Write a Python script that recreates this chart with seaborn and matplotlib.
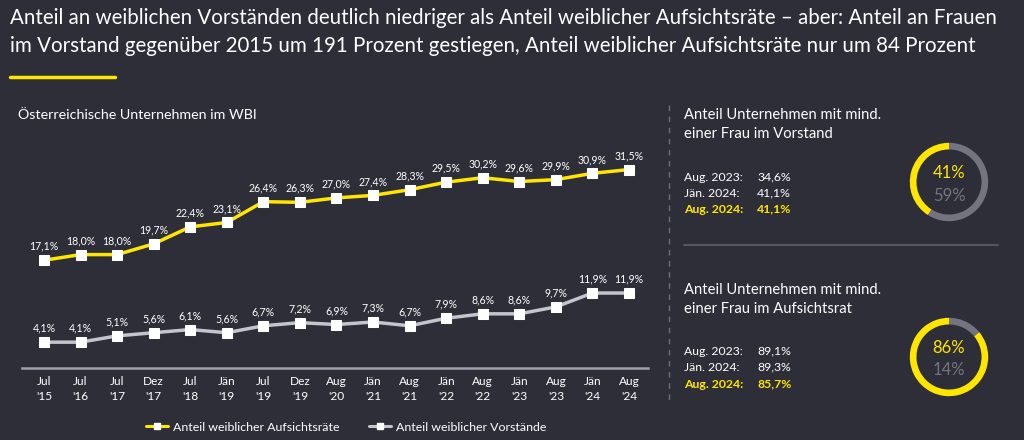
import numpy as np
import pandas as pd
import matplotlib
matplotlib.use("Agg")
import matplotlib.pyplot as plt
import seaborn as sns
from matplotlib.lines import Line2D

# ---------------- data ----------------
periods = ["Jul\n'15", "Jul\n'16", "Jul\n'17", "Dez\n'17", "Jul\n'18", "Jän\n'19",
           "Jul\n'19", "Dez\n'19", "Aug\n'20", "Jän\n'21", "Aug\n'21", "Jän\n'22",
           "Aug\n'22", "Jän\n'23", "Aug\n'23", "Jän\n'24", "Aug\n'24"]
aufsichtsrat = [17.1, 18.0, 18.0, 19.7, 22.4, 23.1, 26.4, 26.3, 27.0, 27.4, 28.3,
                29.5, 30.2, 29.6, 29.9, 30.9, 31.5]
vorstand = [4.1, 4.1, 5.1, 5.6, 6.1, 5.6, 6.7, 7.2, 6.9, 7.3, 6.7, 7.9, 8.6, 8.6,
            9.7, 11.9, 11.9]
series_names = ["Anteil weiblicher Aufsichtsräte", "Anteil weiblicher Vorstände"]

donut1_values = [41, 59]
donut1_labels = ["41%", "59%"]
donut1_rows = [("Aug. 2023:", "34,6%"), ("Jän. 2024:", "41,1%"), ("Aug. 2024:", "41,1%")]
donut1_title = ["Anteil Unternehmen mit mind.", "einer Frau im Vorstand"]

donut2_values = [86, 14]
donut2_labels = ["86%", "14%"]
donut2_rows = [("Aug. 2023:", "89,1%"), ("Jän. 2024:", "89,3%"), ("Aug. 2024:", "85,7%")]
donut2_title = ["Anteil Unternehmen mit mind.", "einer Frau im Aufsichtsrat"]

title_lines = ["Anteil an weiblichen Vorständen deutlich niedriger als Anteil weiblicher Aufsichtsräte – aber: Anteil an Frauen",
               "im Vorstand gegenüber 2015 um 191 Prozent gestiegen, Anteil weiblicher Aufsichtsräte nur um 84 Prozent"]
subtitle = "Österreichische Unternehmen im WBI"

# ---------------- style ----------------
BG = "#2e2e38"
YEL = "#ffe600"
LGRAY = "#c4c4cd"
DGRAY = "#747480"
WHITE = "#ffffff"

sns.set_theme(style="dark")
plt.rcParams["font.family"] = ["Lato", "DejaVu Sans"]

W, H = 1024, 440
fig = plt.figure(figsize=(W / 100, H / 100), dpi=100, facecolor=BG)


def fx(x):
    return x / W


def fy(y):
    return 1 - y / H


# ---------------- title ----------------
for i, line in enumerate(title_lines):
    fig.text(fx(10), fy(18 + 28 * i), line, color=WHITE, fontsize=14.8,
             va="center", ha="left")
fig.add_artist(Line2D([fx(10), fx(115)], [fy(77), fy(77)], color=YEL, lw=2.5))
fig.text(fx(18), fy(115), subtitle, color=WHITE, fontsize=10.3, va="center", ha="left")

# ---------------- line chart ----------------
ax_left, ax_right, ax_bottom = 22, 648, 368
px_per_pct = 6.3
ymax = 33
ax = fig.add_axes([fx(ax_left), fy(ax_bottom), (ax_right - ax_left) / W, ymax * px_per_pct / H])
ax.set_facecolor(BG)

n = len(periods)
df = pd.DataFrame({
    "idx": list(range(n)) * 2,
    "value": aufsichtsrat + vorstand,
    "series": [series_names[0]] * n + [series_names[1]] * n,
})
sns.lineplot(data=df, x="idx", y="value", hue="series",
             palette={series_names[0]: YEL, series_names[1]: LGRAY},
             linewidth=2.5, marker="s", markersize=6.5, markerfacecolor=WHITE,
             markeredgecolor=WHITE, ax=ax, legend=False)

for i in range(n):
    for vals in (aufsichtsrat, vorstand):
        ax.annotate(f"{vals[i]:.1f}%".replace(".", ","), (i, vals[i]),
                    xytext=(0, 10), textcoords="offset points", ha="center",
                    va="center", color=WHITE, fontsize=7.6)

ax.set_xlim(-0.6, 16.52)
ax.set_ylim(0, ymax)
ax.set_xticks(range(n))
ax.set_xticklabels(periods, color=WHITE, fontsize=8.6, linespacing=1.4)
ax.tick_params(axis="x", length=0, pad=6)
ax.set_yticks([])
ax.set_xlabel("")
ax.set_ylabel("")
ax.grid(False)
for s in ["top", "left", "right"]:
    ax.spines[s].set_visible(False)
ax.spines["bottom"].set_color("#a0a0aa")
ax.spines["bottom"].set_linewidth(1.8)

handles = [Line2D([], [], color=YEL, lw=2.2, marker="s", markersize=5,
                  markerfacecolor=WHITE, markeredgecolor=WHITE),
           Line2D([], [], color=LGRAY, lw=2.2, marker="s", markersize=5,
                  markerfacecolor=WHITE, markeredgecolor=WHITE)]
leg = fig.legend(handles, series_names, loc="center", bbox_to_anchor=(fx(346), fy(427)),
                 ncol=2, frameon=False, fontsize=8.9, handlelength=1.8,
                 handletextpad=0.4, columnspacing=2.4, labelcolor=WHITE)

# ---------------- right panel ----------------
fig.add_artist(Line2D([fx(669), fx(669)], [fy(105), fy(405)], color="#6e6e78",
                      lw=1, linestyle=(0, (4, 4))))
fig.add_artist(Line2D([fx(684), fx(998)], [fy(245), fy(245)], color="#55555f", lw=1.5))


def panel(title, rows, values, labels, y_title, y_rows, cy, ty1, ty2):
    for i, t in enumerate(title):
        fig.text(fx(684), fy(y_title + 18.5 * i), t, color=WHITE, fontsize=10.6,
                 va="center", ha="left")
    for i, (lab, val) in enumerate(rows):
        last = i == len(rows) - 1
        c = YEL if last else WHITE
        w = "bold" if last else "normal"
        fig.text(fx(684), fy(y_rows[i]), lab, color=c, fontsize=8.8, fontweight=w,
                 va="center", ha="left")
        fig.text(fx(757), fy(y_rows[i]), val, color=c, fontsize=8.8, fontweight=w,
                 va="center", ha="left")
    r = 49
    dax = fig.add_axes([fx(949 - r), fy(cy + r), 2 * r / W, 2 * r / H])
    dax.pie(values, colors=[YEL, DGRAY], startangle=90, counterclock=True,
            radius=1, wedgeprops=dict(width=0.17, edgecolor="none"))
    dax.set_aspect("equal")
    dax.set_facecolor(BG)
    fig.text(fx(949), fy(ty1), labels[0], color=YEL, fontsize=12, va="center", ha="center")
    fig.text(fx(949), fy(ty2), labels[1], color=DGRAY, fontsize=12, va="center", ha="center")


panel(donut1_title, donut1_rows, donut1_values, donut1_labels, 115, [177, 193, 209],
      182, 173, 196)
panel(donut2_title, donut2_rows, donut2_values, donut2_labels, 290, [351, 367, 384],
      357, 348, 370)

fig.savefig("out.png", dpi=100, facecolor=BG)
